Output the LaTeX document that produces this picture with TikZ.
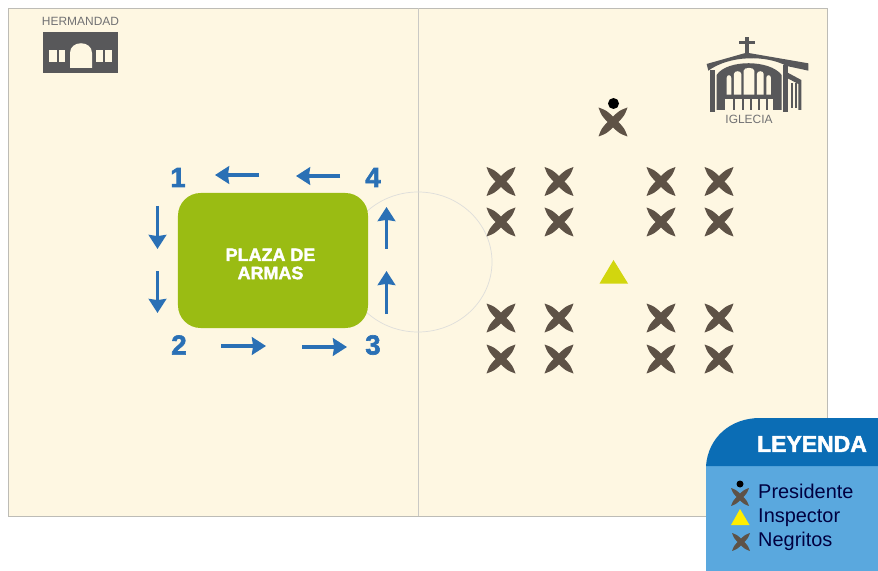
\documentclass[tikz,border=0pt]{standalone}
\usepackage{fontspec}
\setmainfont{Liberation Sans}[BoldFeatures={FakeBold=2.2}]
\usetikzlibrary{arrows.meta}

\definecolor{fondo}{HTML}{FEF7E2}
\definecolor{borde}{HTML}{BDBCB6}
\definecolor{plaza}{HTML}{9ABC13}
\definecolor{azul}{HTML}{2A70B5}
\definecolor{gris}{HTML}{58585A}
\definecolor{negrito}{HTML}{5E5246}
\definecolor{legbody}{HTML}{5AA8DE}
\definecolor{leghead}{HTML}{0B6DB5}
\definecolor{inspector}{HTML}{D2D60E}

\tikzset{
    cruz/.pic={
        \fill[pic actions]
            (-14.5,-14.5) .. controls (-6.5,-11.5) .. (0,-5.5)
            .. controls (6.5,-11.5) .. (14.5,-14.5)
            .. controls (11.5,-6.5) .. (5.5,0)
            .. controls (11.5,6.5) .. (14.5,14.5)
            .. controls (6.5,11.5) .. (0,5.5)
            .. controls (-6.5,11.5) .. (-14.5,14.5)
            .. controls (-11.5,6.5) .. (-5.5,0)
            .. controls (-11.5,-6.5) .. cycle;
    },
    ruta/.style={draw=azul, line width=3pt, -{Stealth[length=12pt,width=15pt,inset=1pt]}},
    numero/.style={text=azul, font=\fontsize{23.5}{23.5}\selectfont\bfseries},
    leyenda/.style={anchor=base west, text=black!75!blue, font=\fontsize{17}{17}\selectfont, inner sep=0pt}
}

\begin{document}
\begin{tikzpicture}[x=0.03cm,y=-0.03cm]

    \useasboundingbox (0,0) rectangle (878,571);

    % campo
    \node[rectangle,
          draw = borde,
          fill = fondo,
          line width = 0.9pt,
          outer sep = 0pt,
          anchor = north west,
          minimum width = 24.57cm,
          minimum height = 15.24cm
          ] (campo) at (8.5,8.5) {};
    \coordinate (medioa) at (418,8.5);
    \coordinate (mediob) at (418,516);
    \draw[borde!80, line width=0.6pt] (medioa) -- (mediob);
    \draw[borde!50, line width=0.6pt] (418,262) ellipse (74 and 70);

    % plaza
    \node[rectangle,
          fill = plaza,
          rounded corners = 0.68cm,
          minimum width = 5.7cm,
          minimum height = 4.05cm
          ] (plazaarmas) at (273,260.5) {};
    \node[text=white, align=center, font=\fontsize{15.3}{15.5}\selectfont\bfseries] (plazatxt) at (270.5,264) {PLAZA DE\\ARMAS};

    \node[numero] (n1) at (178,177.5) {1};
    \node[numero] (n2) at (179,345) {2};
    \node[numero] (n3) at (373,345) {3};
    \node[numero] (n4) at (373,177.5) {4};

    % recorrido
    \foreach \nom/\xa/\ya/\xb/\yb in {
        a/259/175/215/175, b/340/176/296/176,
        c/157.5/206/157.5/249, d/157.5/271/157.5/313,
        e/221/346/266/346, f/302/347/347/347,
        g/386.5/314/386.5/271, h/386.5/249/386.5/207}{
        \coordinate (\nom0) at (\xa,\ya);
        \coordinate (\nom1) at (\xb,\yb);
        \path[ruta] (\nom0) -- (\nom1);
    }

    % negritos
    \foreach \px in {501,559,661,719}{
        \foreach \py in {181.5,222,318,359}{
            \pic[fill=negrito] at (\px,\py) {cruz};
        }
    }
    \pic[fill=negrito] at (613,122) {cruz};
    \fill[black] (613.5,103.5) circle (5.5);
    \fill[inspector] (613.5,260) -- (628,283.5) -- (599.5,283.5) -- cycle;

    % hermandad
    \node[text=gris!85, font=\fontsize{10.2}{10.2}\selectfont] (herm) at (80.5,21.5) {HERMANDAD};
    \fill[gris] (43,32) rectangle (118,73);
    \fill[fondo] (70,68) -- (70,53) .. controls (70,40) and (92,40) .. (92,53) -- (92,68) -- cycle;
    \fill[fondo] (49,50) rectangle (57,62);
    \fill[fondo] (59,50) rectangle (65,62);
    \fill[fondo] (96,50) rectangle (103,62);
    \fill[fondo] (105,50) rectangle (112,62);

    % iglesia
    \node[text=gris!85, font=\fontsize{10.2}{10.2}\selectfont] (igl) at (749,119) {IGLECIA};
    \begin{scope}[shift={(680,20)},x=0.01cm,y=-0.01cm]
        \fill[gris] (196,50) rectangle (207,100);
        \fill[gris] (178,64) rectangle (225,73);
        \fill[gris] (80,132) -- (200,98) -- (385,130) -- (385,152) -- (320,138)
            .. controls (260,105) and (150,105) .. (85,152) -- cycle;
        \fill[gris] (90,150) rectangle (105,275);
        \fill[gris] (110,270) -- (110,165) .. controls (140,118) and (270,118) .. (305,165) -- (305,270) -- cycle;
        \foreach \xa/\xb/\yt in {140/154/174,162/184/162,191/223/152,231/251/162,259/273/174}{
            \fill[fondo] (\xa,224) -- (\xa,\yt) .. controls (\xa,\yt-11) and (\xb,\yt-11) .. (\xb,\yt) -- (\xb,224) -- cycle;
        }
        \fill[fondo] (135,236) rectangle (280,271);
        \foreach \xa in {160,185,210,235,258}{
            \fill[gris] (\xa,236) rectangle (\xa+6,271);
        }
        \fill[gris] (310,135) rectangle (323,275);
        \fill[gris] (323,158) -- (364,180) -- (364,270) -- (355,270) -- (355,192) -- (323,175) -- cycle;
        \fill[gris] (333,188) rectangle (339,265);
        \fill[gris] (344,190) rectangle (350,265);
    \end{scope}

    % leyenda
    \fill[legbody] (706,571) -- (706,466) -- (878,466) -- (878,571) -- cycle;
    \fill[leghead] (706,466) .. controls (708,438) and (730,418) .. (760,418) -- (878,418) -- (878,466) -- cycle;
    \node[text=white, font=\fontsize{19.6}{19.6}\selectfont\bfseries] (legtit) at (812,444) {LEYENDA};
    \pic[fill=negrito, scale=0.62] at (740,497) {cruz};
    \fill[black] (740,484) circle (3.5);
    \fill[yellow!95!orange] (740,509) -- (749.5,525) -- (731,525) -- cycle;
    \pic[fill=negrito, scale=0.62] at (741,542) {cruz};
    \node[leyenda] (legp) at (758,498) {Presidente};
    \node[leyenda] (legi) at (758,522) {Inspector};
    \node[leyenda] (legn) at (758,546) {Negritos};

\end{tikzpicture}
\end{document}
